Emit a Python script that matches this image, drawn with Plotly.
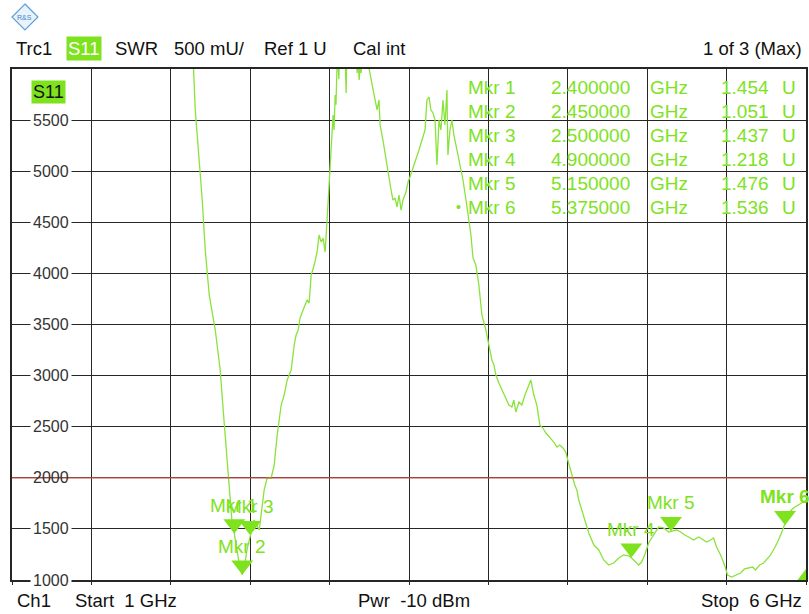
import plotly.graph_objects as go

# ---------------- data ----------------
freq_ghz = [1.00, 1.50, 1.90, 2.05, 2.12, 2.142, 2.154, 2.167, 2.179, 2.198, 2.217, 2.230, 2.236, 2.242,
            2.280, 2.311, 2.330, 2.349, 2.362, 2.374, 2.387, 2.400, 2.420, 2.435, 2.450, 2.465, 2.480, 2.500,
            2.525, 2.557, 2.588, 2.607, 2.632, 2.651, 2.670, 2.695, 2.714, 2.733, 2.758, 2.777, 2.789,
            2.802, 2.814, 2.833, 2.846, 2.858, 2.871, 2.884, 2.903, 2.921, 2.934, 2.947, 2.959, 2.972,
            2.984, 2.997, 3.009, 3.022, 3.028, 3.035, 3.040, 3.050, 3.058, 3.066, 3.080, 3.095, 3.104,
            3.112, 3.140, 3.165, 3.173, 3.180, 3.186, 3.192, 3.198, 3.215, 3.240, 3.248, 3.274, 3.299,
            3.311, 3.318, 3.336, 3.355, 3.374, 3.387, 3.399, 3.412, 3.425, 3.437, 3.450, 3.462, 3.481,
            3.494, 3.506, 3.531, 3.550, 3.563, 3.582, 3.601, 3.613, 3.626, 3.638, 3.651, 3.664, 3.676,
            3.689, 3.701, 3.714, 3.726, 3.739, 3.745, 3.758, 3.770, 3.783, 3.796, 3.814, 3.827, 3.840,
            3.859, 3.871, 3.890, 3.903, 3.921, 3.940, 3.959, 3.984, 4.003, 4.022, 4.035, 4.047, 4.066,
            4.085, 4.110, 4.129, 4.148, 4.160, 4.173, 4.192, 4.211, 4.230, 4.255, 4.267, 4.286, 4.305,
            4.324, 4.343, 4.362, 4.387, 4.412, 4.431, 4.450, 4.469, 4.487, 4.500, 4.513, 4.525, 4.544,
            4.557, 4.569, 4.588, 4.607, 4.632, 4.664, 4.695, 4.726, 4.758, 4.789, 4.821, 4.852, 4.884,
            4.900, 4.915, 4.947, 4.965, 4.984, 5.009, 5.041, 5.072, 5.104, 5.135, 5.150, 5.186, 5.211,
            5.236, 5.261, 5.292, 5.324, 5.355, 5.374, 5.399, 5.418, 5.437, 5.462, 5.487, 5.506, 5.531,
            5.557, 5.588, 5.613, 5.638, 5.664, 5.682, 5.708, 5.733, 5.752, 5.777, 5.802, 5.827, 5.853,
            5.872, 5.891, 5.921, 5.953, 5.984, 6.000]
swr_mu = [9900, 9800, 8600, 7200, 6400, 6050, 5600, 5354, 5110, 4718, 4229, 3990, 3906, 3789,
          3446, 3055, 2663, 2272, 1998, 1734, 1538, 1454, 1250, 1120, 1051, 1140, 1300, 1437,
          1587, 1489, 1881, 1998, 1998, 2125, 2419, 2712, 2810, 2957, 3055, 3299, 3397,
          3446, 3564, 3642, 3691, 3740, 3710, 3984, 4082, 4209, 4376, 4307, 4346, 4209,
          4523, 4865, 5305, 5550, 5403, 5746, 5650, 6200, 5900, 6400, 6600, 6300, 5765,
          6500, 6700, 6300, 5960, 6100, 5893, 6050, 5960, 6400, 6200, 6010, 5795, 5599,
          5697, 5452, 5305, 5110, 4963, 4816, 4718, 4738, 4650, 4767, 4620, 4718, 4797,
          4894, 4943, 5061, 5129, 5208, 5305, 5403, 5697, 5726, 5599, 5570, 5501, 5061,
          5501, 5403, 5697, 5452, 5795, 5159, 5403, 5501, 5354, 5256, 5110, 5012, 4914,
          4718, 4572, 4376, 4151, 4082, 3887, 3593, 3446, 3299, 3153, 3104, 3006, 2928,
          2859, 2781, 2712, 2693, 2761, 2644, 2742, 2712, 2810, 2908, 2957, 2810, 2712,
          2517, 2487, 2438, 2399, 2350, 2301, 2321, 2292, 2252, 2174, 2096, 2027, 1930,
          1881, 1783, 1685, 1587, 1460, 1342, 1294, 1196, 1147, 1166, 1215, 1245, 1235,
          1218, 1196, 1147, 1176, 1245, 1362, 1440, 1519, 1509, 1470, 1476, 1489, 1470,
          1440, 1421, 1391, 1421, 1391, 1372, 1391, 1411, 1323, 1245, 1147, 1049, 1029,
          1049, 1068, 1108, 1117, 1127, 1098, 1147, 1166, 1196, 1245, 1313, 1391, 1489,
          1568, 1656, 1705, 1734, 1763, 1780]

mkr_names = ["Mkr 1", "Mkr 2", "Mkr 3", "Mkr 4", "Mkr 5", "Mkr 6"]
mkr_freq_ghz = [2.400000, 2.450000, 2.500000, 4.900000, 5.150000, 5.375000]
mkr_value_u = [1.454, 1.051, 1.437, 1.218, 1.476, 1.536]
mkr_drawn_ghz = [2.400, 2.450, 2.500, 4.900, 5.150, 5.868]   # where the triangles sit on screen
active_marker = 5

limit_line_mu = 2000
y_ticks = [1000, 1500, 2000, 2500, 3000, 3500, 4000, 4500, 5000, 5500]
x_range = [1.0, 6.0]
y_range = [1000, 6000]

# ---------------- styling ----------------
W, H = 809, 614
L, R, T, B = 12, 1, 69, 34
PW, PH = W - L - R, H - T - B
FONT = "Liberation Sans, Arial, sans-serif"
TRACE_C = "#8ae33c"
MKR_C = "#7ee21e"
RED = "#c8504a"
GRID = "#262626"


def px(xp):
    return (xp - L) / PW


def py(yp):
    return (T + PH - yp) / PH


fig = go.Figure()

fig.add_trace(go.Scatter(x=freq_ghz, y=swr_mu, mode="lines",
                         line=dict(color=TRACE_C, width=1.3), hoverinfo="skip"))

# marker triangles (apex on the trace)
tri_size = 19
apex_off = (tri_size / 2) * (y_range[1] - y_range[0]) / PH
fig.add_trace(go.Scatter(
    x=mkr_drawn_ghz, y=[v * 1000 + apex_off for v in mkr_value_u], mode="markers",
    marker=dict(symbol="triangle-down", size=tri_size, color=MKR_C, line=dict(width=0)),
    cliponaxis=False, hoverinfo="skip"))

# out-of-range indicator at the lower right corner
fig.add_trace(go.Scatter(x=[x_range[1]], y=[y_range[0]], mode="markers",
                         marker=dict(symbol="triangle-up", size=22, color=MKR_C),
                         cliponaxis=True, hoverinfo="skip"))

ann = []
# marker labels
for i, (n, f, v) in enumerate(zip(mkr_names, mkr_drawn_ghz, mkr_value_u)):
    ann.append(dict(x=f, y=v * 1000, xref="x", yref="y", text=("<b>%s</b>" % n) if i == active_marker else n,
                    showarrow=False, yanchor="bottom", xanchor="center", yshift=16,
                    font=dict(family=FONT, size=19, color=MKR_C)))

# marker table
row_y0, row_dy = 87, 24
for i, (n, f, v) in enumerate(zip(mkr_names, mkr_freq_ghz, mkr_value_u)):
    yy = py(row_y0 + i * row_dy)
    tf = dict(family=FONT, size=19, color=MKR_C)
    ann.append(dict(x=px(467), y=yy, xref="paper", yref="paper", text=n, showarrow=False,
                    xanchor="left", yanchor="middle", font=tf))
    ann.append(dict(x=px(634), y=yy, xref="paper", yref="paper", text="%.6f" % f, showarrow=False,
                    xanchor="right", yanchor="middle", font=tf))
    ann.append(dict(x=px(650), y=yy, xref="paper", yref="paper", text="GHz", showarrow=False,
                    xanchor="left", yanchor="middle", font=tf))
    ann.append(dict(x=px(773), y=yy, xref="paper", yref="paper", text="%.3f" % v, showarrow=False,
                    xanchor="right", yanchor="middle", font=tf))
    ann.append(dict(x=px(782), y=yy, xref="paper", yref="paper", text="U", showarrow=False,
                    xanchor="left", yanchor="middle", font=tf))
    if i == active_marker:
        ann.append(dict(x=px(464), y=yy, xref="paper", yref="paper", text="•", showarrow=False,
                        xanchor="right", yanchor="middle", font=dict(family=FONT, size=14, color=MKR_C)))

# y tick labels inside the grid, centred on the lines
for t in y_ticks:
    ann.append(dict(x=px(51), y=t, xref="paper", yref="y", text=str(t), showarrow=False,
                    xanchor="center", yanchor="middle",
                    bgcolor=None if t == limit_line_mu else "white", borderpad=2,
                    font=dict(family=FONT, size=16, color="#333333")))

# trace label box
ann.append(dict(x=px(49), y=py(92), xref="paper", yref="paper", text="S11", showarrow=False,
                xanchor="center", yanchor="middle", bgcolor=MKR_C, borderpad=1,
                font=dict(family=FONT, size=18, color="#111111")))

# header
hy = py(48)
hf = dict(family=FONT, size=18.5, color="#111111")
for txt, xp in [("Trc1", 14), ("SWR", 113), ("500 mU/", 172), ("Ref 1 U", 263), ("Cal int", 352)]:
    ann.append(dict(x=px(xp), y=hy, xref="paper", yref="paper", text=txt, showarrow=False,
                    xanchor="left", yanchor="middle", font=hf))
ann.append(dict(x=px(84), y=hy, xref="paper", yref="paper", text="S11", showarrow=False,
                xanchor="center", yanchor="middle", bgcolor=MKR_C, borderpad=1,
                font=dict(family=FONT, size=18.5, color="white")))
ann.append(dict(x=px(806), y=hy, xref="paper", yref="paper", text="1 of 3 (Max)", showarrow=False,
                xanchor="right", yanchor="middle", font=hf))

# footer
fy = py(600)
for txt, xp, anc in [("Ch1", 15, "left"), ("Start\u00a0 1 GHz", 73, "left"),
                     ("Pwr\u00a0 -10 dBm", 357, "left"), ("Stop\u00a0 6 GHz", 806, "right")]:
    ann.append(dict(x=px(xp), y=fy, xref="paper", yref="paper", text=txt, showarrow=False,
                    xanchor=anc, yanchor="middle", font=hf))

# R&S logo (decorative)
ann.append(dict(x=px(25), y=py(17), xref="paper", yref="paper", text="R&S", showarrow=False,
                font=dict(family=FONT, size=7, color="#3d86c6"), xanchor="center", yanchor="middle"))

shapes = [
    dict(type="line", xref="paper", yref="y", x0=0, x1=1, y0=limit_line_mu, y1=limit_line_mu,
         line=dict(color=RED, width=1.3), layer="above"),
    dict(type="path", xref="paper", yref="paper",
         path="M %f %f L %f %f L %f %f L %f %f Z" % (px(25), py(4), px(38), py(17), px(25), py(30), px(12), py(17)),
         line=dict(color="#5aa0d8", width=1.2), fillcolor="#eaf3fb"),
]

fig.update_layout(
    width=W, height=H, margin=dict(l=L, r=R, t=T, b=B),
    paper_bgcolor="white", plot_bgcolor="white", showlegend=False,
    annotations=ann, shapes=shapes,
    xaxis=dict(range=x_range, dtick=0.5, tick0=1.0, showticklabels=False, showgrid=True,
               gridcolor=GRID, gridwidth=1, zeroline=False, showline=True, linecolor=GRID,
               linewidth=1.5, mirror=True, ticks="outside", ticklen=3, tickcolor=GRID),
    yaxis=dict(range=y_range, dtick=500, tick0=1000, showticklabels=False, showgrid=True,
               gridcolor=GRID, gridwidth=1, zeroline=False, showline=True, linecolor=GRID,
               linewidth=1.5, mirror=True, ticks=""),
)

fig.write_html("out.html", config={"displayModeBar": False},
               post_script="document.body.style.margin='0';document.body.style.overflow='hidden';")
